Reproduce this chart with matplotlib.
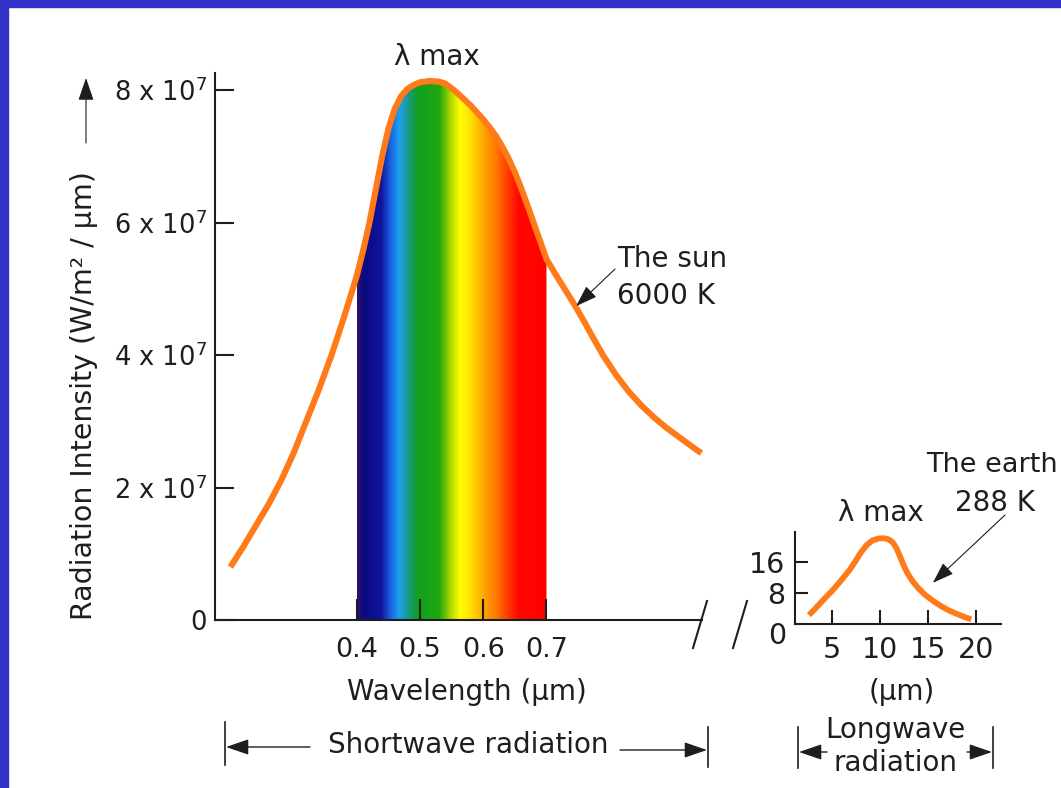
import numpy as np
import matplotlib
matplotlib.use("Agg")
import matplotlib.pyplot as plt
from matplotlib.colors import LinearSegmentedColormap
from matplotlib.patches import Rectangle, Polygon, FancyArrowPatch
from matplotlib.lines import Line2D

# sun curve: wavelength (um) and intensity (x 1e7 W/m2/um)
sun_wl = [0.200, 0.220, 0.240, 0.260, 0.280, 0.300, 0.320, 0.340, 0.360, 0.380,
          0.400, 0.410, 0.420, 0.430, 0.440, 0.450, 0.460, 0.470, 0.480, 0.490,
          0.500, 0.515, 0.530, 0.540, 0.550, 0.560, 0.580, 0.600, 0.610, 0.620,
          0.630, 0.640, 0.650, 0.660, 0.670, 0.680, 0.690, 0.700, 0.715, 0.730,
          0.745, 0.760, 0.775, 0.790, 0.810, 0.830, 0.850, 0.870, 0.890, 0.910,
          0.930, 0.945]
sun_val = [0.80, 1.10, 1.42, 1.74, 2.10, 2.52, 3.00, 3.48, 4.00, 4.58,
           5.20, 5.58, 6.00, 6.50, 7.00, 7.42, 7.72, 7.91, 8.02, 8.08,
           8.12, 8.14, 8.13, 8.10, 8.03, 7.95, 7.77, 7.56, 7.44, 7.31,
           7.15, 6.97, 6.76, 6.52, 6.26, 5.99, 5.72, 5.45, 5.21, 4.98,
           4.75, 4.50, 4.24, 3.99, 3.70, 3.45, 3.24, 3.06, 2.90, 2.76,
           2.62, 2.52]

# earth curve: wavelength (um) and intensity (W/m2/um)
earth_wl = [2.6, 3.2, 3.8, 4.4, 5.0, 5.6, 6.2, 6.8, 7.4, 8.0, 8.6, 9.2, 9.8,
            10.4, 10.9, 11.3, 11.7, 12.1, 12.5, 12.9, 13.4, 14.0, 14.7, 15.5,
            16.3, 17.1, 17.9, 18.7, 19.5]
earth_val = [2.3, 3.8, 5.4, 7.0, 8.5, 10.2, 12.0, 13.8, 16.0, 18.4, 20.3, 21.5,
             22.0, 22.1, 21.8, 21.1, 19.6, 17.3, 14.9, 12.9, 11.0, 9.2, 7.5,
             6.0, 4.7, 3.6, 2.7, 1.9, 1.2]

main_xticks = [0.4, 0.5, 0.6, 0.7]
main_xlabels = ["0.4", "0.5", "0.6", "0.7"]
main_yticks = [0, 2, 4, 6, 8]
main_ylabels = ["0", "2 x 10$^7$", "4 x 10$^7$", "6 x 10$^7$", "8 x 10$^7$"]
inset_xticks = [5, 10, 15, 20]
inset_yticks = [8, 16]

# visible spectrum colours by wavelength
spec_wl = [0.400, 0.410, 0.438, 0.452, 0.466, 0.480, 0.495, 0.530, 0.548, 0.563,
           0.580, 0.600, 0.620, 0.640, 0.655, 0.700]
spec_col = ["#30106a", "#0a0a80", "#10149c", "#1a60e0", "#20a0f0", "#1a9a90",
            "#10a020", "#20a810", "#b0d800", "#ffff00", "#ffe000", "#ffa800",
            "#ff7800", "#ff3800", "#ff0800", "#ff0000"]

ORANGE = "#ff7a18"
INK = "#1e1e1e"
W, H = 1061, 788


def fx(px):
    return px / W


def fy(py):
    return 1 - py / H


fig = plt.figure(figsize=(W / 100, H / 100), dpi=100)
fig.patch.set_facecolor("white")
fig.patches.append(Rectangle((0, fy(7)), 1, 7 / H, transform=fig.transFigure,
                             color="#3232c8", zorder=0))
fig.patches.append(Rectangle((0, 0), 8 / W, 1, transform=fig.transFigure,
                             color="#3232c8", zorder=0))

# ---- main (sun) axes
ax = fig.add_axes([fx(215), fy(620), fx(702) - fx(215), fy(73) - fy(620)])
ax.set_facecolor("none")

pos = [(w - spec_wl[0]) / (spec_wl[-1] - spec_wl[0]) for w in spec_wl]
pos[0], pos[-1] = 0.0, 1.0
cmap = LinearSegmentedColormap.from_list("spec", list(zip(pos, spec_col)))
grad = np.linspace(0, 1, 600)[None, :]
im = ax.imshow(grad, cmap=cmap, aspect="auto", extent=[0.4, 0.7, 0, 8.26],
               interpolation="bilinear", zorder=1)
wl = np.array(sun_wl)
val = np.array(sun_val)
m = (wl >= 0.4) & (wl <= 0.7)
verts = [(0.4, 0)] + list(zip(wl[m], val[m])) + [(0.7, 0)]
poly = Polygon(verts, closed=True, transform=ax.transData, fc="none", ec="none")
ax.add_patch(poly)
im.set_clip_path(poly)

ax.plot(sun_wl, sun_val, color=ORANGE, lw=4.4, solid_capstyle="butt",
        solid_joinstyle="round", zorder=3, clip_on=False)

ax.set_xlim(0.1757, 0.946)
ax.set_ylim(0, 8.26)
for s in ["top", "right"]:
    ax.spines[s].set_visible(False)
for s in ["left", "bottom"]:
    ax.spines[s].set_linewidth(1.5)
    ax.spines[s].set_color(INK)
ax.set_xticks(main_xticks)
ax.set_xticklabels(main_xlabels)
ax.set_yticks(main_yticks)
ax.set_yticklabels(main_ylabels)
ax.tick_params(axis="x", direction="in", length=15, width=1.5, color=INK,
               pad=12, labelsize=19.5, labelcolor=INK)
ax.tick_params(axis="y", direction="in", length=14, width=1.5, color=INK,
               pad=6, labelsize=18.5, labelcolor=INK)

# ---- inset (earth) axes
ax2 = fig.add_axes([fx(795), fy(624), fx(1001) - fx(795), fy(532) - fy(624)])
ax2.set_facecolor("none")
ax2.plot(earth_wl, earth_val, color=ORANGE, lw=4.2, solid_capstyle="butt",
         solid_joinstyle="round", clip_on=False)
ax2.set_xlim(1.15, 22.6)
ax2.set_ylim(0, 23.7)
for s in ["top", "right"]:
    ax2.spines[s].set_visible(False)
for s in ["left", "bottom"]:
    ax2.spines[s].set_linewidth(1.5)
    ax2.spines[s].set_color(INK)
ax2.set_xticks(inset_xticks)
ax2.set_yticks(inset_yticks)
ax2.tick_params(axis="x", direction="in", length=10, width=1.5, color=INK,
                pad=9, labelsize=20.5, labelcolor=INK)
ax2.tick_params(axis="y", direction="in", length=9, width=1.5, color=INK,
                pad=7, labelsize=20.5, labelcolor=INK)
fig.text(fx(786), fy(636), "0", ha="right", va="center", fontsize=20.5, color=INK)

# ---- texts
fs = 20
fig.text(fx(84), fy(396), "Radiation Intensity (W/m² / µm)", rotation=90,
         ha="center", va="center", fontsize=20.5, color=INK)
fig.text(fx(437), fy(57), "λ max", ha="center", va="center", fontsize=fs, color=INK)
fig.text(fx(467), fy(692), "Wavelength (µm)", ha="center", va="center",
         fontsize=fs, color=INK)
fig.text(fx(468), fy(745), "Shortwave radiation", ha="center", va="center",
         fontsize=fs, color=INK)
fig.text(fx(617), fy(259), "The sun", ha="left", va="center", fontsize=fs, color=INK)
fig.text(fx(617), fy(296), "6000 K", ha="left", va="center", fontsize=fs, color=INK)
fig.text(fx(881), fy(513), "λ max", ha="center", va="center", fontsize=fs, color=INK)
fig.text(fx(926), fy(465), "The earth", ha="left", va="center", fontsize=19.5,
         color=INK)
fig.text(fx(995), fy(503), "288 K", ha="center", va="center", fontsize=fs, color=INK)
fig.text(fx(902), fy(692), "(µm)", ha="center", va="center", fontsize=fs, color=INK)
fig.text(fx(895), fy(730), "Longwave", ha="center", va="center", fontsize=fs, color=INK)
fig.text(fx(896), fy(763), "radiation", ha="center", va="center", fontsize=fs, color=INK)

# ---- arrows
head = "-|>,head_length=0.7,head_width=0.24"


def arrow(x0, y0, x1, y1, lw=1.0):
    fig.add_artist(FancyArrowPatch(
        (fx(x0), fy(y0)), (fx(x1), fy(y1)), transform=fig.transFigure,
        arrowstyle=head, mutation_scale=20, color=INK, lw=lw,
        shrinkA=0, shrinkB=0))


def vline(x, y0, y1):
    fig.add_artist(Line2D([fx(x), fx(x)], [fy(y0), fy(y1)], color=INK, lw=1.2))


arrow(86, 143, 86, 78, lw=0.8)
ax.annotate("", xy=(0.747, 4.74), xycoords="data",
            xytext=(fx(615), fy(269)), textcoords="figure fraction",
            arrowprops=dict(arrowstyle=head, mutation_scale=19, color=INK,
                            lw=0.8, shrinkA=0, shrinkB=0))
ax2.annotate("", xy=(15.5, 10.6), xycoords="data",
             xytext=(fx(1005), fy(515)), textcoords="figure fraction",
             arrowprops=dict(arrowstyle=head, mutation_scale=19, color=INK,
                             lw=0.8, shrinkA=0, shrinkB=0))

# shortwave span
vline(225, 722, 765)
vline(708, 727, 767)
arrow(310, 747, 226, 747)
arrow(620, 750, 707, 750)
# longwave span
vline(798, 727, 768)
vline(993, 727, 768)
arrow(827, 752, 799, 752)
arrow(967, 752, 992, 752)

# axis break marks
fig.add_artist(Line2D([fx(693), fx(707)], [fy(648), fy(601)], color=INK, lw=1.5))
fig.add_artist(Line2D([fx(733), fx(747)], [fy(648), fy(601)], color=INK, lw=1.5))

fig.savefig("out.png", dpi=100, facecolor=fig.get_facecolor())
